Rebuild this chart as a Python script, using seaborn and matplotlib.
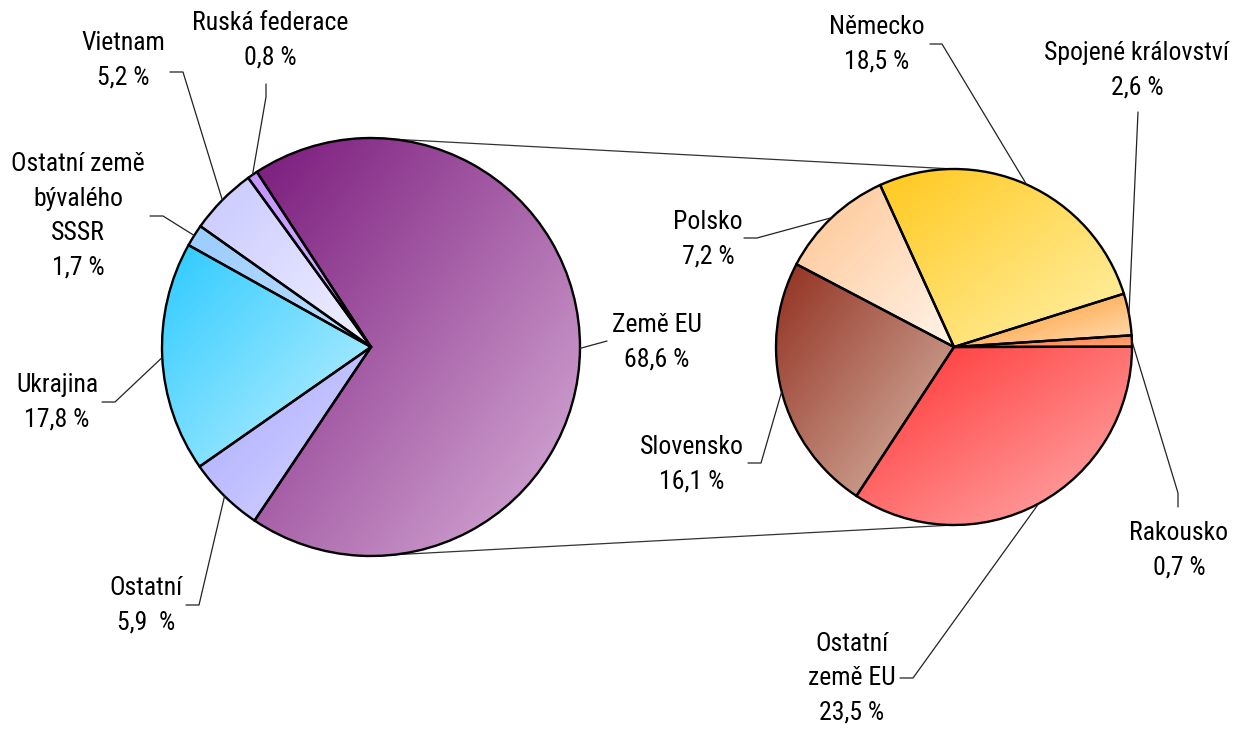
import numpy as np
import matplotlib
matplotlib.use("Agg")
import matplotlib.pyplot as plt
import seaborn as sns

# Data - main pie (foreign nationals), EU part split in the secondary pie
main_labels = ["Ruská federace", "Vietnam", "Ostatní země\nbývalého\nSSSR", "Ukrajina", "Ostatní", "Země EU"]
main_values = [0.8, 5.2, 1.7, 17.8, 5.9, 68.6]
eu_labels = ["Německo", "Spojené království", "Rakousko", "Ostatní\nzemě EU", "Slovensko", "Polsko"]
eu_values = [18.5, 2.6, 0.7, 23.5, 16.1, 7.2]

# gradient colours (top-left -> bottom-right)
main_colors = [("#C494FF", "#D8B8FF"), ("#C8C8FF", "#F0F0FF"), ("#99CCFF", "#BFDFFF"),
               ("#2CCAFF", "#C4F2FF"), ("#A8A8FF", "#D8D8FF"), ("#7A1A7C", "#DAB2DA")]
eu_colors = [("#FFC81E", "#FFF2AC"), ("#FF8E1A", "#FFE0B8"), ("#FF6E3A", "#FFA878"),
             ("#FF3030", "#FFB0B0"), ("#923020", "#DABCAC"), ("#FFC490", "#FFF4EA")]

sns.set_theme(style="white")
plt.rcParams["font.family"] = ["Roboto Condensed", "Archivo Narrow", "Liberation Sans", "DejaVu Sans"]

W, H = 1246, 729
fig = plt.figure(figsize=(W / 100, H / 100), dpi=100)
ax = fig.add_axes([0, 0, 1, 1])

c1, r1 = (371, H - 347), 209
c2, r2 = (954, H - 347), 178

w1, _ = ax.pie(main_values, center=c1, radius=r1, startangle=123.1, counterclock=True,
               wedgeprops=dict(edgecolor="black", linewidth=1.7))
w2, _ = ax.pie(eu_values, center=c2, radius=r2, startangle=114.5, counterclock=False,
               wedgeprops=dict(edgecolor="black", linewidth=1.7))

yy, xx = np.mgrid[0:1:200j, 0:1:200j]
grad = (xx + (1 - yy)) / 2


def fill_gradient(wedges, cols):
    for w, (ca, cb) in zip(wedges, cols):
        bb = w.get_path().get_extents()
        cmap = sns.blend_palette([ca, cb], n_colors=256, as_cmap=True)
        im = ax.imshow(grad, cmap=cmap, extent=(bb.x0, bb.x1, bb.y0, bb.y1), origin="lower",
                       interpolation="bilinear", aspect="auto", zorder=1)
        im.set_clip_path(w)
        w.set_facecolor("none")
        w.set_zorder(2)


fill_gradient(w1, main_colors)
fill_gradient(w2, eu_colors)

# lines joining the two pies
ax.plot([c1[0], c2[0]], [c1[1] + r1, c2[1] + r2], color="#333333", lw=0.9, zorder=0)
ax.plot([c1[0], c2[0]], [c1[1] - r1, c2[1] - r2], color="#333333", lw=0.9, zorder=0)


def pct(v):
    return f"{v:.1f}".replace(".", ",") + " %"


main_pct = [pct(v) for v in main_values]
main_pct[4] = main_pct[4].replace(" %", "  %")
eu_pct = [pct(v) for v in eu_values]

# label position, leader stub start, stub end (pixels, y from top)
main_pos = [((270, 40), (266, 84), (266, 97)),
            ((123, 60), (170, 72), (183, 72)),
            ((78, 216), (150, 216), (163, 216)),
            ((57, 402), (102, 402), (115, 402)),
            ((146, 605), (186, 605), (199, 605)),
            ((657, 342), (607, 341), (607, 341))]
eu_pos = [((877, 44), (930, 44), (942, 44)),
          ((1137, 70), (1138, 112), (1138, 112)),
          ((1179, 550), (1178, 507), (1178, 493)),
          ((852, 678), (900, 678), (913, 678)),
          ((692, 464), (748, 463), (761, 463)),
          ((708, 239), (744, 238), (757, 238))]


def add_labels(wedges, labels, pcts, pos, center, r):
    for w, lab, p, (tp, s0, s1) in zip(wedges, labels, pcts, pos):
        ang = np.deg2rad((w.theta1 + w.theta2) / 2)
        px, py = center[0] + r * np.cos(ang), center[1] + r * np.sin(ang)
        ax.plot([s0[0], s1[0], px], [H - s0[1], H - s1[1], py], color="#222222", lw=0.9, zorder=3)
        ax.text(tp[0], H - tp[1], f"{lab}\n{p}", ha="center", va="center", fontsize=18.5,
                linespacing=1.55, color="black", zorder=4)


add_labels(w1, main_labels, main_pct, main_pos, c1, r1)
add_labels(w2, eu_labels, eu_pct, eu_pos, c2, r2)

ax.set_xlim(0, W)
ax.set_ylim(0, H)
ax.set_aspect("auto")
ax.axis("off")

fig.savefig("out.png", dpi=100, facecolor="white")
